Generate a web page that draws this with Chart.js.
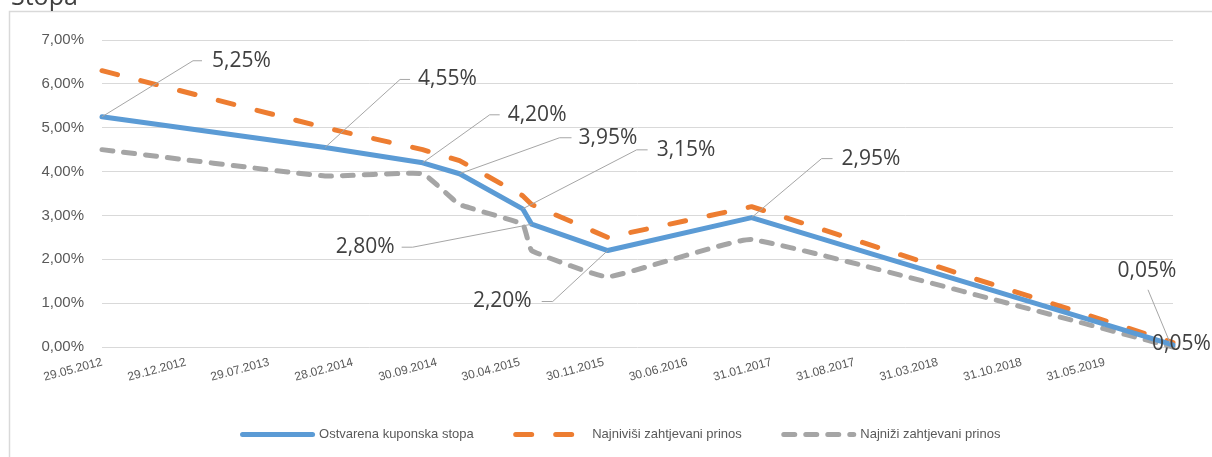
<!DOCTYPE html>
<html><head><meta charset="utf-8">
<script src="https://cdn.jsdelivr.net/npm/chart.js@4.4.1/dist/chart.umd.min.js"></script>
<style>html,body{margin:0;padding:0;background:#fff;overflow:hidden}#wrap{position:relative;width:1212px;height:457px}</style>
</head><body><div id="wrap"><canvas id="c" width="1212" height="457"></canvas></div>
<script>
// ---- data ----
const seriesNames = ['Ostvarena kuponska stopa', 'Najniviši zahtjevani prinos', 'Najniži zahtjevani prinos'];
const pointDates = ['2012-05-29','2013-12-19','2014-08-25','2014-11-27','2015-05-07','2015-05-30','2015-12-10','2016-12-11','2019-11-21'];
const couponRate = [5.25, 4.55, 4.20, 3.95, 3.15, 2.80, 2.20, 2.95, 0.05];
const highestYield = [6.30, 5.00, 4.50, 4.25, 3.45, 3.25, 2.50, 3.20, 0.10];
const lowestYield = [4.50, 3.90, 3.95, 3.25, 2.80, 2.20, 1.60, 2.45, 0.00];
const tickDates = ['2012-05-29','2012-12-29','2013-07-29','2014-02-28','2014-09-30','2015-04-30','2015-11-30','2016-06-30','2017-01-31','2017-08-31','2018-03-31','2018-10-31','2019-05-31'];
const tickLabels = ['29.05.2012','29.12.2012','29.07.2013','28.02.2014','30.09.2014','30.04.2015','30.11.2015','30.06.2016','31.01.2017','31.08.2017','31.03.2018','31.10.2018','31.05.2019'];
const axisStart = '2012-05-29';
const axisEnd = '2019-11-21';
const yMin = 0, yMax = 7, yStep = 1;
const titleText = 'Stopa';

const ts = d => Date.parse(d);
const fmt = v => v.toFixed(2).replace('.', ',') + '%';
const toXY = vals => vals.map((v, i) => ({x: ts(pointDates[i]), y: v}));

const NARROW = '"Liberation Sans", Arial, sans-serif';
const LABELFONT = '"Open Sans", "Noto Sans", sans-serif';

// label placement (offsets from the point, in px)
const labelLayout = [
  {i:0, dx:91, dy:-56, h:9, gap:10},
  {i:1, dx:75, dy:-68, h:10, gap:8},
  {i:2, dx:67, dy:-48, h:10, gap:8},
  {i:3, dx:100, dy:-36, h:12, gap:7},
  {i:4, dx:114, dy:-59, h:11, gap:9},
  {i:5, dx:-119, dy:23, h:-11, gap:7},
  {i:6, dx:-55, dy:51, h:-11, gap:10},
  {i:7, dx:70, dy:-59, h:11, gap:9},
];

const framePlugin = {
  id: 'frame',
  afterLayout(chart) {
    const lg = chart.legend;
    if (lg) {
      const h = lg.bottom - lg.top;
      lg.left = 70; lg.right = 1173;
      lg.top = 386; lg.bottom = 386 + h;
    }
  },
  beforeDraw(chart) {
    const ctx = chart.ctx;
    ctx.save();
    ctx.fillStyle = '#fff';
    ctx.fillRect(0, 0, chart.width, chart.height);
    ctx.strokeStyle = '#D9D9D9';
    ctx.lineWidth = 1.5;
    ctx.beginPath();
    ctx.moveTo(9.5, chart.height + 2);
    ctx.lineTo(9.5, 11.5);
    ctx.lineTo(chart.width + 2, 11.5);
    ctx.stroke();
    ctx.fillStyle = '#404040';
    ctx.font = '25px ' + LABELFONT;
    ctx.textBaseline = 'alphabetic';
    ctx.textAlign = 'left';
    ctx.fillText(titleText, 11, 5);
    ctx.restore();
  }
};

const labelPlugin = {
  id: 'leaderLabels',
  afterDatasetsDraw(chart) {
    const ctx = chart.ctx;
    const pts = chart.getDatasetMeta(0).data;
    ctx.save();
    ctx.font = '21px ' + LABELFONT;
    ctx.fillStyle = '#404040';
    ctx.strokeStyle = '#A6A6A6';
    ctx.lineWidth = 1;
    ctx.textBaseline = 'middle';
    labelLayout.forEach(L => {
      const p = pts[L.i];
      const ex = p.x + L.dx, ey = p.y + L.dy;
      ctx.beginPath();
      ctx.moveTo(p.x, p.y);
      ctx.lineTo(ex, ey);
      ctx.lineTo(ex + L.h, ey);
      ctx.stroke();
      const txt = fmt(couponRate[L.i]);
      if (L.h >= 0) { ctx.textAlign = 'left'; ctx.fillText(txt, ex + L.h + L.gap, ey); }
      else { ctx.textAlign = 'right'; ctx.fillText(txt, ex + L.h - L.gap, ey); }
    });
    const last = couponRate.length - 1;
    const p = pts[last];
    ctx.beginPath();
    ctx.moveTo(p.x - 3, p.y - 2);
    ctx.lineTo(p.x - 25, p.y - 55);
    ctx.stroke();
    ctx.textAlign = 'center';
    ctx.fillText(fmt(couponRate[last]), p.x - 26, p.y - 74);
    ctx.textAlign = 'left';
    ctx.fillText(fmt(couponRate[last]), p.x - 21, p.y - 1);
    ctx.restore();
  }
};

const colors = ['#5B9BD5', '#ED7D31', '#A5A5A5'];
const dashes = [[], [16, 24], [11, 11]];
const widths = [5, 5, 5];

new Chart(document.getElementById('c'), {
  type: 'line',
  data: {
    datasets: [
      {label: seriesNames[0], data: toXY(couponRate), borderColor: colors[0], borderWidth: widths[0], borderDash: dashes[0], borderCapStyle: 'round', borderJoinStyle: 'round', pointRadius: 0, tension: 0, clip: false, order: 0},
      {label: seriesNames[1], data: toXY(highestYield), borderColor: colors[1], borderWidth: widths[1], borderDash: dashes[1], borderCapStyle: 'round', borderJoinStyle: 'round', pointRadius: 0, tension: 0, clip: false, order: 2},
      {label: seriesNames[2], data: toXY(lowestYield), borderColor: colors[2], borderWidth: widths[2], borderDash: dashes[2], borderCapStyle: 'round', borderJoinStyle: 'round', pointRadius: 0, tension: 0.1, clip: false, order: 1},
    ]
  },
  options: {
    responsive: false,
    animation: false,
    devicePixelRatio: 1,
    layout: {padding: {left: 0, right: 39, top: 40, bottom: 0}},
    plugins: {
      tooltip: {enabled: false},
      title: {display: false},
      legend: {
        display: true,
        position: 'bottom',
        labels: {
          usePointStyle: true,
          pointStyleWidth: 70,
          padding: 42,
          color: '#595959',
          font: {family: NARROW, size: 13},
          generateLabels(chart) {
            return chart.data.datasets.map((ds, i) => ({
              text: ds.label,
              datasetIndex: i,
              fillStyle: ds.borderColor,
              strokeStyle: ds.borderColor,
              lineWidth: ds.borderWidth,
              lineDash: ds.borderDash,
              lineCap: 'round',
              pointStyle: 'line',
              fontColor: '#595959',
              hidden: false
            }));
          }
        }
      }
    },
    scales: {
      x: {
        type: 'linear',
        min: ts(axisStart),
        max: ts(axisEnd),
        afterBuildTicks(scale) { scale.ticks = tickDates.map(d => ({value: ts(d)})); },
        afterFit(scale) { scale.height = 45; },
        grid: {display: false},
        border: {display: false},
        ticks: {
          autoSkip: false,
          minRotation: 15,
          maxRotation: 15,
          padding: 0,
          color: '#595959',
          font: {family: NARROW, size: 12},
          callback: (v, i) => tickLabels[i]
        }
      },
      y: {
        min: yMin, max: yMax,
        afterFit(scale) { scale.width = 102; },
        grid: {color: '#D9D9D9', lineWidth: 1, drawTicks: false},
        border: {display: false},
        ticks: {
          stepSize: yStep,
          padding: 18,
          color: '#595959',
          font: {family: NARROW, size: 15},
          callback: v => fmt(v)
        }
      }
    }
  },
  plugins: [framePlugin, labelPlugin]
});
</script>
</body></html>
